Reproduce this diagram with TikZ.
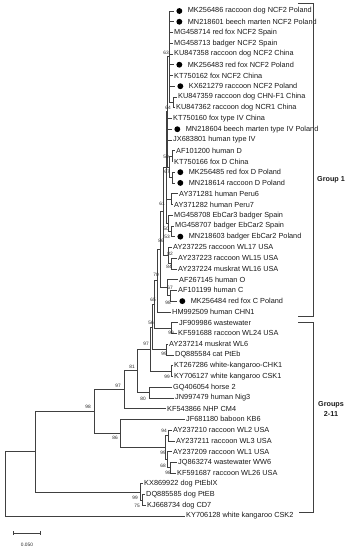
\documentclass[tikz,border=0pt]{standalone}
\usepackage{fontspec}
\setmainfont{Liberation Sans}
\usetikzlibrary{positioning}

\begin{document}
\begin{tikzpicture}[x=0.75pt, y=-0.75pt,
  branch/.style={draw=black!75, line width=0.45pt},
  leaf/.style={inner sep=0.5pt, font=\fontsize{5.5}{6}\selectfont, text=black!90},
  boot/.style={inner sep=0pt, font=\fontsize{3.6}{4}\selectfont, text=black!85},
  marker/.style={circle, fill=black, inner sep=0pt, minimum size=4.4pt},
  grp/.style={font=\bfseries\fontsize{5.4}{8.2}\selectfont, align=center, text=black!90}]
\useasboundingbox (0,0) rectangle (348,550);
% Leaf tips
\coordinate (t1) at (174,11.00);
\coordinate (t2) at (174,21.75);
\coordinate (t3) at (172.5,32.49);
\coordinate (t4) at (172.5,43.24);
\coordinate (t5) at (172.5,53.98);
\coordinate (t6) at (174,64.73);
\coordinate (t7) at (172.5,75.47);
\coordinate (t8) at (175,86.22);
\coordinate (t9) at (176.5,96.96);
\coordinate (t10) at (174.5,107.71);
\coordinate (t11) at (171.5,118.45);
\coordinate (t12) at (172,129.20);
\coordinate (t13) at (171.5,139.94);
\coordinate (t14) at (174.5,150.69);
\coordinate (t15) at (172.5,161.43);
\coordinate (t16) at (175,172.18);
\coordinate (t17) at (175,182.92);
\coordinate (t18) at (177.5,193.67);
\coordinate (t19) at (172.5,204.41);
\coordinate (t20) at (172.5,215.16);
\coordinate (t21) at (173.5,225.90);
\coordinate (t22) at (175,236.65);
\coordinate (t23) at (171.5,247.39);
\coordinate (t24) at (176.5,258.14);
\coordinate (t25) at (176.5,268.88);
\coordinate (t26) at (177.5,279.63);
\coordinate (t27) at (176.5,290.37);
\coordinate (t28) at (177,301.12);
\coordinate (t29) at (170.5,311.86);
\coordinate (t30) at (177.5,322.61);
\coordinate (t31) at (176.5,333.35);
\coordinate (t32) at (167.5,344.10);
\coordinate (t33) at (173.5,354.84);
\coordinate (t34) at (172.5,365.59);
\coordinate (t35) at (172.5,376.33);
\coordinate (t36) at (171.5,387.08);
\coordinate (t37) at (173.5,397.82);
\coordinate (t38) at (165.5,408.57);
\coordinate (t39) at (184.5,419.31);
\coordinate (t40) at (171.5,430.06);
\coordinate (t41) at (174.5,440.80);
\coordinate (t42) at (171.5,451.55);
\coordinate (t43) at (176.5,462.29);
\coordinate (t44) at (175.5,473.04);
\coordinate (t45) at (142.5,483.78);
\coordinate (t46) at (144.5,494.53);
\coordinate (t47) at (145.5,505.27);
\coordinate (t48) at (184.5,516.02);
% Leaf labels
\node[marker, right=1.6pt of t1] (d1) {};
\node[leaf, right=3.3pt of d1] (n1) {MK256486 raccoon dog NCF2 Poland};
\node[marker, right=1.6pt of t2] (d2) {};
\node[leaf, right=3.3pt of d2] (n2) {MN218601 beech marten NCF2 Poland};
\node[leaf, right=0.6pt of t3] (n3) {MG458714 red fox NCF2 Spain};
\node[leaf, right=0.6pt of t4] (n4) {MG458713 badger NCF2 Spain};
\node[leaf, right=0.6pt of t5] (n5) {KU847358 raccoon dog NCF2 China};
\node[marker, right=1.6pt of t6] (d6) {};
\node[leaf, right=3.3pt of d6] (n6) {MK256483 red fox NCF2 Poland};
\node[leaf, right=0.6pt of t7] (n7) {KT750162 fox NCF2 China};
\node[marker, right=1.6pt of t8] (d8) {};
\node[leaf, right=3.3pt of d8] (n8) {KX621279 raccoon NCF2 Poland};
\node[leaf, right=0.6pt of t9] (n9) {KU847359 raccoon dog CHN-F1 China};
\node[leaf, right=0.6pt of t10] (n10) {KU847362 raccoon dog NCR1 China};
\node[leaf, right=0.6pt of t11] (n11) {KT750160 fox type IV China};
\node[marker, right=1.6pt of t12] (d12) {};
\node[leaf, right=3.3pt of d12] (n12) {MN218604 beech marten type IV Poland};
\node[leaf, right=0.6pt of t13] (n13) {JX683801 human type IV};
\node[leaf, right=0.6pt of t14] (n14) {AF101200 human D};
\node[leaf, right=0.6pt of t15] (n15) {KT750166 fox D China};
\node[marker, right=1.6pt of t16] (d16) {};
\node[leaf, right=3.3pt of d16] (n16) {MK256485 red fox D Poland};
\node[marker, right=1.6pt of t17] (d17) {};
\node[leaf, right=3.3pt of d17] (n17) {MN218614 raccoon D Poland};
\node[leaf, right=0.6pt of t18] (n18) {AY371281 human Peru6};
\node[leaf, right=0.6pt of t19] (n19) {AY371282 human Peru7};
\node[leaf, right=0.6pt of t20] (n20) {MG458708 EbCar3 badger Spain};
\node[leaf, right=0.6pt of t21] (n21) {MG458707 badger EbCar2 Spain};
\node[marker, right=1.6pt of t22] (d22) {};
\node[leaf, right=3.3pt of d22] (n22) {MN218603 badger EbCar2 Poland};
\node[leaf, right=0.6pt of t23] (n23) {AY237225 raccoon WL17 USA};
\node[leaf, right=0.6pt of t24] (n24) {AY237223 raccoon WL15 USA};
\node[leaf, right=0.6pt of t25] (n25) {AY237224 muskrat WL16 USA};
\node[leaf, right=0.6pt of t26] (n26) {AF267145 human O};
\node[leaf, right=0.6pt of t27] (n27) {AF101199 human C};
\node[marker, right=1.6pt of t28] (d28) {};
\node[leaf, right=3.3pt of d28] (n28) {MK256484 red fox C Poland};
\node[leaf, right=0.6pt of t29] (n29) {HM992509 human CHN1};
\node[leaf, right=0.6pt of t30] (n30) {JF909986 wastewater};
\node[leaf, right=0.6pt of t31] (n31) {KF591688 raccoon WL24 USA};
\node[leaf, right=0.6pt of t32] (n32) {AY237214 muskrat WL6};
\node[leaf, right=0.6pt of t33] (n33) {DQ885584 cat PtEb};
\node[leaf, right=0.6pt of t34] (n34) {KT267286 white-kangaroo-CHK1};
\node[leaf, right=0.6pt of t35] (n35) {KY706127 white kangaroo CSK1};
\node[leaf, right=0.6pt of t36] (n36) {GQ406054 horse 2};
\node[leaf, right=0.6pt of t37] (n37) {JN997479 human Nig3};
\node[leaf, right=0.6pt of t38] (n38) {KF543866 NHP CM4};
\node[leaf, right=0.6pt of t39] (n39) {JF681180 baboon KB6};
\node[leaf, right=0.6pt of t40] (n40) {AY237210 raccoon WL2 USA};
\node[leaf, right=0.6pt of t41] (n41) {AY237211 raccoon WL3 USA};
\node[leaf, right=0.6pt of t42] (n42) {AY237209 raccoon WL1 USA};
\node[leaf, right=0.6pt of t43] (n43) {JQ863274 wastewater WW6};
\node[leaf, right=0.6pt of t44] (n44) {KF591687 raccoon WL26 USA};
\node[leaf, right=0.6pt of t45] (n45) {KX869922 dog PtEbIX};
\node[leaf, right=0.6pt of t46] (n46) {DQ885585 dog PtEB};
\node[leaf, right=0.6pt of t47] (n47) {KJ668734 dog CD7};
\node[leaf, right=0.6pt of t48] (n48) {KY706128 white kangaroo CSK2};
% Inner nodes
\coordinate (chn) at (173,102.34);
\coordinate (ncfa) at (169,56.67);
\coordinate (dcla) at (172,156.06);
\coordinate (dclb) at (172,177.55);
\coordinate (dcl) at (169,166.81);
\coordinate (ncf) at (167,111.74);
\coordinate (peru) at (171,199.04);
\coordinate (ebcb) at (171,231.28);
\coordinate (ebc) at (168,223.22);
\coordinate (grp1) at (166,167.48);
\coordinate (hwlb) at (171,263.51);
\coordinate (hwl) at (168,255.45);
\coordinate (fam86) at (163,211.47);
\coordinate (hclb) at (170,295.75);
\coordinate (hcl) at (167,287.69);
\coordinate (fam70) at (160,249.58);
\coordinate (fam65) at (157,280.72);
\coordinate (wst) at (171,327.98);
\coordinate (fam56) at (154,304.35);
\coordinate (cat) at (166,349.47);
\coordinate (famb) at (152,326.91);
\coordinate (kan) at (171,370.96);
\coordinate (fam) at (150,348.94);
\coordinate (hrs) at (149,392.45);
\coordinate (mid) at (137,370.70);
\coordinate (up) at (124,389.63);
\coordinate (wlb) at (168,435.43);
\coordinate (wld) at (170,467.67);
\coordinate (wlc) at (167,459.61);
\coordinate (wla) at (165,447.52);
\coordinate (wl) at (120,433.42);
\coordinate (big) at (94,411.52);
\coordinate (dogb) at (142,499.90);
\coordinate (dog) at (140,491.84);
\coordinate (ingr) at (35,451.68);
\coordinate (root) at (5,483.85);
% Branches
\draw[branch] (root) |- (ingr) (root) |- (t48);
\draw[branch] (ingr) |- (big) (ingr) |- (dog);
\draw[branch] (dog) |- (t45) (dog) |- (dogb) (dogb) |- (t46) (dogb) |- (t47);
\draw[branch] (big) |- (up) (big) |- (wl);
\draw[branch] (wl) |- (t39) (wl) |- (wla) (wla) |- (wlb) (wla) |- (wlc);
\draw[branch] (wlb) |- (t40) (wlb) |- (t41) (wlc) |- (t42) (wlc) |- (wld);
\draw[branch] (wld) |- (t43) (wld) |- (t44);
\draw[branch] (up) |- (mid) (up) |- (t38);
\draw[branch] (mid) |- (fam) (mid) |- (hrs) (hrs) |- (t36) (hrs) |- (t37);
\draw[branch] (fam) |- (famb) (fam) |- (kan) (kan) |- (t34) (kan) |- (t35);
\draw[branch] (famb) |- (fam56) (famb) |- (cat) (cat) |- (t32) (cat) |- (t33);
\draw[branch] (fam56) |- (fam65) (fam56) |- (wst) (wst) |- (t30) (wst) |- (t31);
\draw[branch] (fam65) |- (fam70) (fam65) |- (t29);
\draw[branch] (fam70) |- (fam86) (fam70) |- (hcl);
\draw[branch] (hcl) |- (t26) (hcl) |- (hclb) (hclb) |- (t27) (hclb) |- (t28);
\draw[branch] (fam86) |- (grp1) (fam86) |- (hwl);
\draw[branch] (hwl) |- (t23) (hwl) |- (hwlb) (hwlb) |- (t24) (hwlb) |- (t25);
\draw[branch] (grp1) |- (ncf) (grp1) |- (peru) (grp1) |- (ebc);
\draw[branch] (ebc) |- (t20) (ebc) |- (ebcb) (ebcb) |- (t21) (ebcb) |- (t22);
\draw[branch] (peru) |- (t18) (peru) |- (t19);
\draw[branch] (ncf) |- (ncfa) (ncf) |- (t11) (ncf) |- (t12) (ncf) |- (t13) (ncf) |- (dcl);
\draw[branch] (dcl) |- (dcla) (dcl) |- (dclb);
\draw[branch] (dcla) |- (t14) (dcla) |- (t15) (dclb) |- (t16) (dclb) |- (t17);
\draw[branch] (ncfa) |- (t1) (ncfa) |- (t2) (ncfa) |- (t3) (ncfa) |- (t4)
  (ncfa) |- (t5) (ncfa) |- (t6) (ncfa) |- (t7) (ncfa) |- (t8) (ncfa) |- (chn);
\draw[branch] (chn) |- (t9) (chn) |- (t10);
% Bootstrap values
\node[boot] (b1) at (166,53) {63};
\node[boot] (b2) at (168,108) {64};
\node[boot] (b3) at (166,157) {50};
\node[boot] (b4) at (167,172) {67};
\node[boot] (b5) at (162,204) {61};
\node[boot] (b6) at (166,229) {50};
\node[boot] (b7) at (167,237) {53};
\node[boot] (b8) at (161,241) {86};
\node[boot] (b9) at (170,254) {82};
\node[boot] (b10) at (169,267) {84};
\node[boot] (b11) at (156,275) {70};
\node[boot] (b12) at (170,288) {67};
\node[boot] (b13) at (153,300) {65};
\node[boot] (b14) at (168,303) {98};
\node[boot] (b15) at (151,323) {56};
\node[boot] (b16) at (171,333) {99};
\node[boot] (b17) at (146,344) {97};
\node[boot] (b18) at (164,354) {99};
\node[boot] (b19) at (132,367) {81};
\node[boot] (b20) at (167,377) {99};
\node[boot] (b21) at (118,386) {97};
\node[boot] (b22) at (143,399) {80};
\node[boot] (b23) at (88,407) {98};
\node[boot] (b24) at (164,431) {94};
\node[boot] (b25) at (115,438) {86};
\node[boot] (b26) at (163,453) {99};
\node[boot] (b27) at (163,466) {68};
\node[boot] (b28) at (168,473) {98};
\node[boot] (b29) at (135,498) {99};
\node[boot] (b30) at (137,506) {75};
% Group brackets
\coordinate (g1a) at (298,3);
\coordinate (g1b) at (298,316);
\draw[branch] (g1a) -- (313,3) -- (313,316) -- (g1b);
\node[grp] (g1) at (331,180) {Group 1};
\coordinate (g2a) at (298,322);
\coordinate (g2b) at (299,512);
\draw[branch] (g2a) -- (313,322) -- (313,512) -- (g2b);
\node[grp] (g2) at (331,409) {Groups\\2-11};
% Scale bar
\coordinate (sb1) at (13,533);
\coordinate (sb2) at (40,533);
\draw[branch] (sb1) -- (sb2);
\draw[branch] (13,531) -- (13,535) (40,531) -- (40,535);
\node[boot] (sbl) at (27,545) {0.050};
\end{tikzpicture}
\end{document}
